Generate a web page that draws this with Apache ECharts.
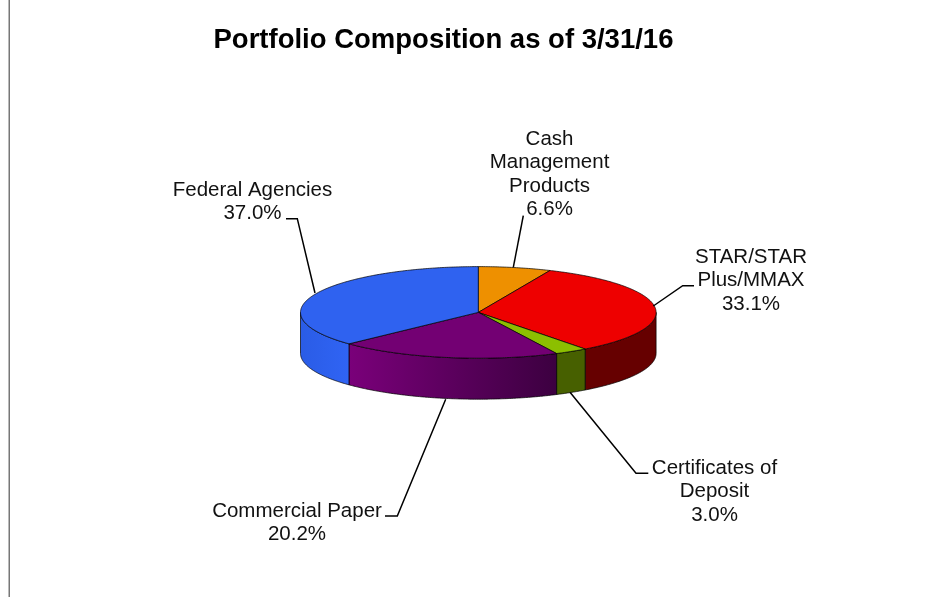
<!DOCTYPE html>
<html>
<head>
<meta charset="utf-8">
<style>html,body{margin:0;padding:0;background:#fff}#c{width:941px;height:597px}</style>
<script src="https://cdn.jsdelivr.net/npm/echarts@6/dist/echarts.min.js"></script>
</head>
<body>
<div id="c"></div>
<script>
const titleText = 'Portfolio Composition as of 3/31/16';
const categories = ['Cash\nManagement\nProducts', 'STAR/STAR\nPlus/MMAX', 'Certificates of\nDeposit', 'Commercial Paper', 'Federal Agencies'];
const values = [6.6, 33.1, 3.0, 20.2, 37.0];

const topColors = ['#EE9000', '#EE0000', '#8CBF00', '#730073', '#2F62F0'];
const sideColors = [['#8a5400', '#8a5400'], ['#660000', '#660000'], ['#476000', '#476000'], ['#7a007a', '#3c0040'], ['#2a5ce6', '#3064f4']];

// layout of the pie and of the callouts
const pie = { cx: 478.3, cy: 312.4, rx: 177.8, ry: 45.8, depth: 41 };
const labelCenters = [[549.5, 139], [751, 257], [714.5, 468], [297, 511], [252.5, 190]];
const leaders = [
  [[513.3, 267.3], [523.3, 215.7]],
  [[653.3, 306], [682.7, 285.7], [694, 285.7]],
  [[570, 392.3], [636, 473.3], [648.3, 473.3]],
  [[445.7, 399.3], [397.3, 516], [385, 516]],
  [[315, 293], [297.3, 218.7], [286, 218.7]]
];

const total = values.reduce((a, b) => a + b, 0);
const starts = [];
values.reduce((acc, v, i) => { starts[i] = acc; return acc + v; }, 0);
const toAngle = v => v / total * 2 * Math.PI;
const pt = (a, dy) => [pie.cx + pie.rx * Math.sin(a), pie.cy - pie.ry * Math.cos(a) + (dy || 0)];
function arc(a, b, dy) {
  const n = Math.max(2, Math.ceil(Math.abs(b - a) / 0.01));
  const out = [];
  for (let i = 0; i <= n; i++) out.push(pt(a + (b - a) * i / n, dy));
  return out;
}
const edge = 'rgba(0,0,0,0.7)';

const data = values.map((v, i) => [v, i]);

function renderSide(params, api) {
  const i = api.value(1);
  const a = Math.max(toAngle(starts[i]), Math.PI / 2);
  const b = Math.min(toAngle(starts[i] + api.value(0)), Math.PI * 1.5);
  if (b <= a) return { type: 'group', children: [] };
  return {
    type: 'polygon',
    shape: { points: arc(a, b, 0).concat(arc(b, a, pie.depth)) },
    style: {
      fill: new echarts.graphic.LinearGradient(0, 0, 1, 0, [
        { offset: 0, color: sideColors[i][0] },
        { offset: 1, color: sideColors[i][1] }
      ]),
      stroke: edge, lineWidth: 1
    }
  };
}
function renderTop(params, api) {
  const i = api.value(1);
  const a = toAngle(starts[i]), b = toAngle(starts[i] + api.value(0));
  return {
    type: 'polygon',
    shape: { points: [[pie.cx, pie.cy]].concat(arc(a, b, 0)) },
    style: { fill: topColors[i], stroke: edge, lineWidth: 1 }
  };
}
function renderLabel(params, api) {
  const i = api.value(1);
  const lines = categories[i].split('\n').concat(api.value(0).toFixed(1) + '%');
  const children = [{
    type: 'polyline',
    shape: { points: leaders[i] },
    style: { fill: 'none', stroke: '#000', lineWidth: 1.5 }
  }];
  lines.forEach((t, k) => children.push({
    type: 'text',
    style: {
      text: t, x: labelCenters[i][0], y: labelCenters[i][1] + k * 23.5,
      align: 'center', verticalAlign: 'middle', fill: '#111',
      font: '20.5px "Liberation Sans", Arial, sans-serif'
    }
  }));
  return { type: 'group', children };
}

const chart = echarts.init(document.getElementById('c'), null, { renderer: 'canvas' });
chart.setOption({
  animation: false,
  backgroundColor: '#fff',
  title: {
    text: titleText, left: 208.5, top: 21,
    textStyle: { fontFamily: '"Liberation Sans", Arial, sans-serif', fontWeight: 'bold', fontSize: 27.5, color: '#000' }
  },
  graphic: [{
    type: 'line', silent: true,
    shape: { x1: 9.25, y1: 0, x2: 9.25, y2: 597 },
    style: { stroke: '#777', lineWidth: 1.5 }
  }],
  series: [
    { type: 'custom', coordinateSystem: 'none', renderItem: renderSide, data, z: 2, silent: true },
    { type: 'custom', coordinateSystem: 'none', renderItem: renderTop, data, z: 3, silent: true },
    { type: 'custom', coordinateSystem: 'none', renderItem: renderLabel, data, z: 4, silent: true }
  ]
});
</script>
</body>
</html>
